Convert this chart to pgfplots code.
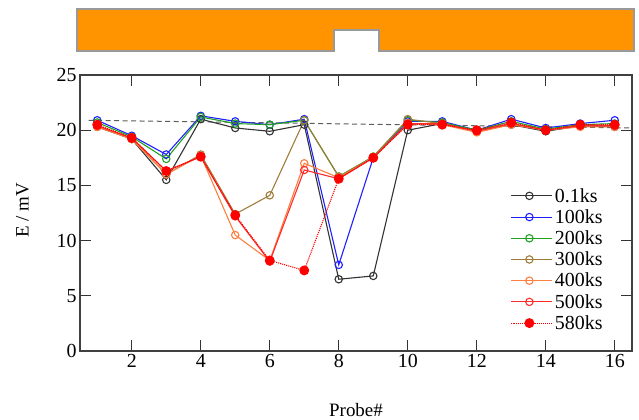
\documentclass[border=0pt]{standalone}
\usepackage{fontspec}
\setmainfont{Liberation Serif}
\usepackage{pgfplots}
\pgfplotsset{compat=1.18}

\definecolor{cA}{HTML}{333333}
\definecolor{cB}{HTML}{2020FF}
\definecolor{cC}{HTML}{22A022}
\definecolor{cD}{HTML}{A07C3A}
\definecolor{cE}{HTML}{FF7F40}
\definecolor{cF}{HTML}{FF2A2A}
\definecolor{cG}{HTML}{FF0000}
\definecolor{barorange}{HTML}{FF9300}

\begin{document}
\begin{tikzpicture}
\begin{axis}[
  width=552bp, height=276bp, scale only axis,
  xmin=0.5, xmax=16.5, ymin=0, ymax=25,
  xtick={2,4,...,16}, ytick={0,5,...,25},
  tick align=inside, major tick length=11bp,
  tick style={black!80, line width=0.9bp},
  axis line style={black!75, line width=1.2bp},
  ticklabel style={font=\fontsize{20}{20}\selectfont},
  /pgf/number format/assume math mode=true,
  xlabel={Probe\#}, ylabel={E / mV},
  label style={font=\fontsize{19}{19}\selectfont},
  xlabel style={at={(axis description cs:0.5,-0.213)}, anchor=center},
  ylabel style={at={(axis description cs:-0.104,0.51)}, anchor=center},
  clip=false,
  every axis plot/.append style={line width=1.1bp},
  legend style={at={(rel axis cs:0.956,0.605)}, anchor=north east, draw=none, fill=none,
    font=\fontsize{20}{20}\selectfont, row sep=1.9bp},
  legend cell align=left,
  legend image code/.code={\draw[mark repeat=2,mark phase=2] plot coordinates {(0bp,0bp) (18bp,0bp) (36bp,0bp)};
    \path (0bp,0bp) -- (41bp,0bp);},
]
% specimen outline above the plot
\draw[line width=2bp, draw=black!40, fill=barorange]
  (axis cs:0.41,27.15) -- (axis cs:0.41,30.95) -- (axis cs:16.56,30.95) -- (axis cs:16.56,27.15)
  -- (axis cs:9.17,27.15) -- (axis cs:9.17,29.05) -- (axis cs:7.86,29.05) -- (axis cs:7.86,27.15) -- cycle;

\addplot[cA!80, dashed, line width=1bp, dash pattern=on 5bp off 3.5bp, forget plot] coordinates {(0.75,20.9) (16.5,20.2)};

\addplot[cA, mark=o, mark size=3.7bp, mark options={solid, fill=white}] coordinates {
(1,20.3) (2,19.2) (3,15.5) (4,21.0) (5,20.2) (6,19.9) (7,20.5) (8,6.5)
(9,6.8) (10,20.0) (11,20.6) (12,20.0) (13,20.5) (14,19.9) (15,20.4) (16,20.3)};
\addplot[cB, mark=o, mark size=3.7bp, mark options={solid, fill=white}] coordinates {
(1,20.9) (2,19.5) (3,17.8) (4,21.3) (5,20.8) (6,20.5) (7,21.0) (8,7.8)
(9,17.5) (10,20.8) (11,20.8) (12,20.0) (13,21.0) (14,20.2) (15,20.6) (16,20.9)};
\addplot[cC, mark=o, mark size=3.7bp, mark options={solid, fill=white}] coordinates {
(1,20.7) (2,19.4) (3,17.4) (4,21.2) (5,20.6) (6,20.5) (7,20.9) (8,15.8)
(9,17.6) (10,20.9) (11,20.7) (12,20.0) (13,20.8) (14,20.1) (15,20.5) (16,20.6)};
\addplot[cD, mark=o, mark size=3.7bp, mark options={solid, fill=white}] coordinates {
(1,20.4) (2,19.2) (3,16.0) (4,17.8) (5,12.4) (6,14.1) (7,20.9) (8,15.8)
(9,17.6) (10,21.0) (11,20.6) (12,19.9) (13,20.6) (14,20.0) (15,20.4) (16,20.4)};
\addplot[cE, mark=o, mark size=3.7bp, mark options={solid, fill=white}] coordinates {
(1,20.3) (2,19.2) (3,16.0) (4,17.7) (5,10.5) (6,8.2) (7,17.0) (8,15.7)
(9,17.5) (10,20.6) (11,20.5) (12,19.8) (13,20.5) (14,20.0) (15,20.3) (16,20.3)};
\addplot[cF, mark=o, mark size=3.7bp, mark options={solid, fill=white}] coordinates {
(1,20.4) (2,19.3) (3,16.3) (4,17.6) (5,12.2) (6,8.1) (7,16.4) (8,15.6)
(9,17.5) (10,20.6) (11,20.6) (12,19.9) (13,20.6) (14,20.0) (15,20.4) (16,20.4)};
\addplot[cG, densely dotted, mark=*, mark size=4.4bp, mark options={solid, fill=cG}] coordinates {
(1,20.5) (2,19.3) (3,16.3) (4,17.6) (5,12.3) (6,8.2) (7,7.3) (8,15.6)
(9,17.5) (10,20.5) (11,20.5) (12,20.0) (13,20.7) (14,20.0) (15,20.5) (16,20.5)};
\legend{0.1ks,100ks,200ks,300ks,400ks,500ks,580ks}

\coordinate (sw) at (rel axis cs:0,0);
\coordinate (ne) at (rel axis cs:1,1);
\end{axis}
\pgfresetboundingbox
\path ([shift={(-80bp,-69bp)}]sw) rectangle ([shift={(7bp,75bp)}]ne);
\end{tikzpicture}
\end{document}
